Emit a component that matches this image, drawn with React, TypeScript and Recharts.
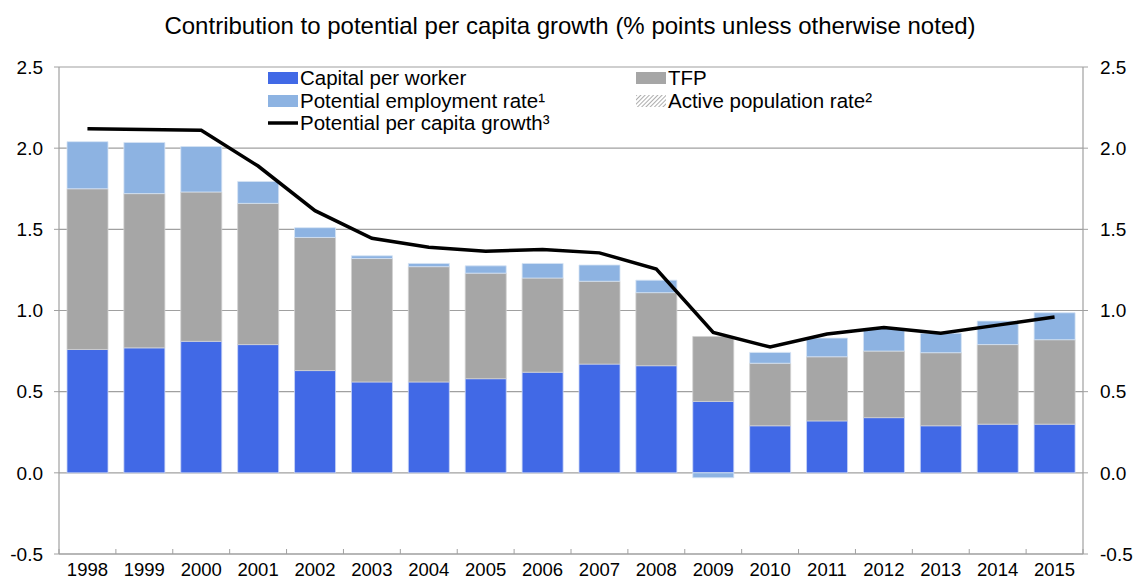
import React from 'react';
import { ComposedChart, Bar, Line, XAxis, YAxis, CartesianGrid, Legend } from 'recharts';

const years = ['1998', '1999', '2000', '2001', '2002', '2003', '2004', '2005', '2006', '2007', '2008', '2009', '2010', '2011', '2012', '2013', '2014', '2015'];
const capitalPerWorker = [0.76, 0.77, 0.81, 0.79, 0.63, 0.56, 0.56, 0.58, 0.62, 0.67, 0.66, 0.44, 0.29, 0.32, 0.34, 0.29, 0.30, 0.30];
const tfp = [0.99, 0.95, 0.92, 0.87, 0.82, 0.76, 0.71, 0.65, 0.58, 0.51, 0.45, 0.40, 0.385, 0.395, 0.41, 0.45, 0.49, 0.52];
const potentialEmploymentRate = [0.29, 0.315, 0.28, 0.135, 0.06, 0.017, 0.02, 0.045, 0.09, 0.10, 0.077, -0.03, 0.067, 0.115, 0.14, 0.12, 0.145, 0.166];
const activePopulationRate = [0, 0, 0, 0, 0, 0, 0, 0, 0, 0, 0, 0, 0, 0, 0, 0, 0, 0];
const potentialPerCapitaGrowth = [2.12, 2.115, 2.11, 1.89, 1.615, 1.445, 1.39, 1.365, 1.375, 1.355, 1.255, 0.865, 0.775, 0.855, 0.895, 0.86, 0.91, 0.96];
const yTicks = [-0.5, 0, 0.5, 1.0, 1.5, 2.0, 2.5];

const TITLE = 'Contribution to potential per capita growth (% points unless otherwise noted)';

const data = years.map((year, i) => ({
  year,
  capital: capitalPerWorker[i],
  tfp: tfp[i],
  emp: potentialEmploymentRate[i],
  active: activePopulationRate[i],
  growth: potentialPerCapitaGrowth[i],
}));

const FONT = '"Liberation Sans", Arial, Helvetica, sans-serif';
const W = 1136;
const H = 581;
const LEFT_W = 59;
const RIGHT_W = 53;
const STEP = (W - LEFT_W - RIGHT_W) / years.length;
const X_TICK_MARGIN = 9;

const C_CAPITAL = '#4169E6';
const C_TFP = '#A6A6A6';
const C_EMP = '#8DB3E2';
const GRID = '#A0A0A0';

const XTick = (props: any) => {
  const { x, y, payload, index } = props;
  const axisY = y - X_TICK_MARGIN;
  const last = index === years.length - 1;
  return (
    <g>
      <line x1={x - STEP / 2} x2={x - STEP / 2} y1={axisY} y2={axisY - 5} stroke={GRID} strokeWidth={1} />
      {last && <line x1={x + STEP / 2} x2={x + STEP / 2} y1={axisY} y2={axisY - 5} stroke={GRID} strokeWidth={1} />}
      <text x={x} y={y} dy="0.71em" textAnchor="middle" fill="#000" fontSize={18.5} fontFamily={FONT}>
        {payload.value}
      </text>
    </g>
  );
};

const Swatch = ({ kind }: { kind: string }) => {
  if (kind === 'line') {
    return (
      <svg width={30} height={14} style={{ display: 'block' }}>
        <line x1={0} x2={30} y1={7} y2={7} stroke="#000" strokeWidth={3.5} />
      </svg>
    );
  }
  if (kind === 'hatch') {
    return (
      <svg width={30} height={12} style={{ display: 'block' }}>
        <defs>
          <pattern id="hatchLegend" width={3} height={3} patternUnits="userSpaceOnUse" patternTransform="rotate(45)">
            <rect width={3} height={3} fill="#ffffff" />
            <line x1={0} x2={0} y1={0} y2={3} stroke="#8a8a8a" strokeWidth={1.4} />
          </pattern>
        </defs>
        <rect width={30} height={12} fill="url(#hatchLegend)" />
      </svg>
    );
  }
  return <div style={{ width: 30, height: 12, background: kind }} />;
};

const legendItems = [
  { label: 'Capital per worker', kind: C_CAPITAL },
  { label: 'TFP', kind: C_TFP },
  { label: 'Potential employment rate¹', kind: C_EMP },
  { label: 'Active population rate²', kind: 'hatch' },
  { label: 'Potential per capita growth³', kind: 'line' },
];

const renderLegend = () => (
  <div
    style={{
      display: 'grid',
      gridTemplateColumns: '368px 320px',
      fontFamily: FONT,
      fontSize: 20.5,
      lineHeight: '22.5px',
      color: '#000',
    }}
  >
    {legendItems.map((it) => (
      <div key={it.label} style={{ display: 'flex', alignItems: 'center', whiteSpace: 'nowrap', height: 22.5 }}>
        <Swatch kind={it.kind} />
        <span style={{ marginLeft: 2 }}>{it.label}</span>
      </div>
    ))}
  </div>
);

export default function App() {
  return (
    <div style={{ position: 'absolute', left: 0, top: 0, width: W, height: H, background: '#fff' }}>
      <div
        style={{
          position: 'absolute',
          left: 0,
          top: 14,
          width: W,
          textAlign: 'center',
          fontFamily: FONT,
          fontSize: 24,
          lineHeight: '24px',
          color: '#000',
          paddingLeft: 4,
          boxSizing: 'border-box',
          whiteSpace: 'nowrap',
        }}
      >
        {TITLE}
      </div>
      <ComposedChart
        width={W}
        height={H}
        data={data}
        stackOffset="sign"
        barCategoryGap={8}
        margin={{ top: 67, right: 0, bottom: 0, left: 0 }}
      >
        <CartesianGrid vertical={false} stroke={GRID} strokeWidth={1.2} />
        <XAxis
          dataKey="year"
          height={27}
          interval={0}
          axisLine={{ stroke: GRID, strokeWidth: 1.2 }}
          tickLine={false}
          tickSize={0}
          tickMargin={X_TICK_MARGIN}
          tick={<XTick />}
        />
        <YAxis
          domain={[-0.5, 2.5]}
          ticks={yTicks}
          width={LEFT_W}
          allowDataOverflow
          tickFormatter={(v: number) => v.toFixed(1)}
          axisLine={{ stroke: GRID, strokeWidth: 1.2 }}
          tickLine={{ stroke: GRID }}
          tickSize={5}
          tickMargin={11}
          tick={{ fill: '#000', fontSize: 19, fontFamily: FONT }}
        />
        <YAxis
          yAxisId="right"
          orientation="right"
          domain={[-0.5, 2.5]}
          ticks={yTicks}
          width={RIGHT_W}
          allowDataOverflow
          tickFormatter={(v: number) => v.toFixed(1)}
          axisLine={{ stroke: GRID, strokeWidth: 1.2 }}
          tickLine={{ stroke: GRID }}
          tickSize={5}
          tickMargin={12}
          tick={{ fill: '#000', fontSize: 19, fontFamily: FONT, textAnchor: 'start' }}
        />
        <Legend
          layout="vertical"
          align="center"
          verticalAlign="middle"
          content={renderLegend}
          wrapperStyle={{ left: 268, top: 67, width: 700, height: 70 }}
        />
        <Bar dataKey="capital" name="Capital per worker" stackId="a" fill={C_CAPITAL} stroke="#c9d4f5" strokeWidth={0.8} isAnimationActive={false} />
        <Bar dataKey="tfp" name="TFP" stackId="a" fill={C_TFP} stroke="#d0d0d0" strokeWidth={0.8} isAnimationActive={false} />
        <Bar dataKey="emp" name="Potential employment rate¹" stackId="a" fill={C_EMP} stroke="#d6e3f4" strokeWidth={0.8} isAnimationActive={false} />
        <Bar dataKey="active" name="Active population rate²" stackId="a" fill="#bbbbbb" isAnimationActive={false} />
        <Line
          dataKey="growth"
          name="Potential per capita growth³"
          type="linear"
          stroke="#000"
          strokeWidth={3.5}
          dot={false}
          activeDot={false}
          isAnimationActive={false}
        />
      </ComposedChart>
    </div>
  );
}
